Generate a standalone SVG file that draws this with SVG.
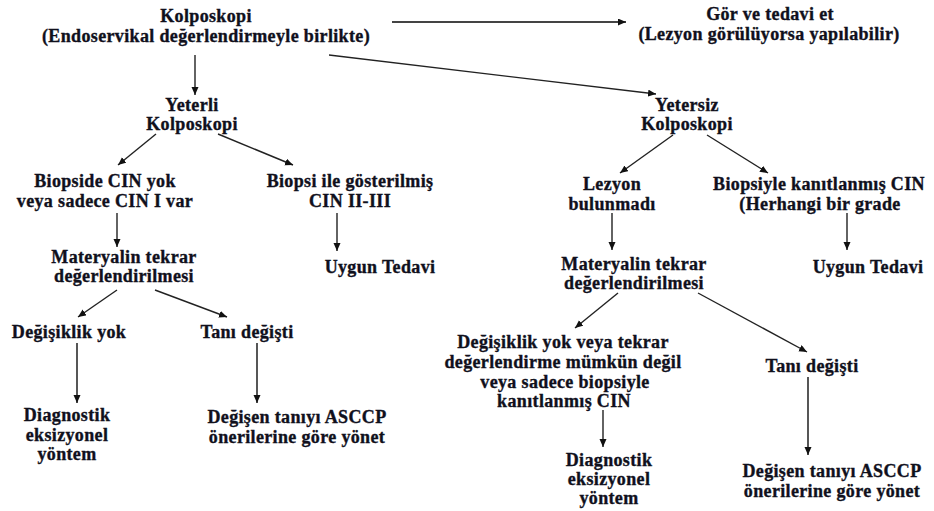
<svg xmlns="http://www.w3.org/2000/svg" width="934" height="511" viewBox="0 0 934 511">
  <style>
    text { font-family: "Liberation Serif", "Times New Roman", serif; font-weight: bold; font-size: 18px; letter-spacing: 0.35px; fill: #10101c; stroke: #10101c; stroke-width: 0.35; text-anchor: middle; }
    .edge { stroke: #222; stroke-width: 1.4; fill: none; marker-end: url(#arrow); }
    .edge.grey { stroke: #444; stroke-width: 1.8; }
  </style>
  <defs>
    <marker id="arrow" markerUnits="userSpaceOnUse" markerWidth="9" markerHeight="8" refX="8" refY="3.5" orient="auto">
      <path d="M0,0 L8,3.5 L0,7 z" fill="#111"/>
    </marker>
  </defs>
  <rect width="934" height="511" fill="#fff"/>

  <g id="connectors">
    <line class="edge grey" x1="392" y1="22" x2="626" y2="22"/>
    <line class="edge" x1="195" y1="55" x2="195" y2="95"/>
    <line class="edge" x1="329" y1="55" x2="656" y2="94"/>
    <line class="edge" x1="156" y1="134" x2="118" y2="165"/>
    <line class="edge" x1="218" y1="134" x2="293" y2="165"/>
    <line class="edge" x1="117" y1="213" x2="117" y2="247"/>
    <line class="edge" x1="337" y1="213" x2="337" y2="251"/>
    <line class="edge" x1="117" y1="290" x2="78" y2="317"/>
    <line class="edge" x1="155" y1="290" x2="227" y2="317"/>
    <line class="edge grey" x1="77" y1="343" x2="77" y2="403"/>
    <line class="edge grey" x1="257" y1="343" x2="257" y2="403"/>
    <line class="edge" x1="673" y1="135" x2="620" y2="173"/>
    <line class="edge" x1="707" y1="135" x2="768" y2="173"/>
    <line class="edge" x1="612" y1="213" x2="612" y2="250"/>
    <line class="edge" x1="847" y1="213" x2="847" y2="250"/>
    <line class="edge" x1="618" y1="293" x2="575" y2="328"/>
    <line class="edge" x1="698" y1="293" x2="807" y2="352"/>
    <line class="edge" x1="603" y1="410" x2="603" y2="447"/>
    <line class="edge grey" x1="808" y1="377" x2="808" y2="455"/>
  </g>

  <g id="kolposkopi">
    <text x="206" y="22">Kolposkopi</text>
    <text x="206" y="42">(Endoservikal değerlendirmeyle birlikte)</text>
  </g>
  <g id="gor-ve-tedavi">
    <text x="770" y="20">Gör ve tedavi et</text>
    <text x="769" y="40">(Lezyon görülüyorsa yapılabilir)</text>
  </g>
  <g id="yeterli">
    <text x="192" y="111">Yeterli</text>
    <text x="192" y="130">Kolposkopi</text>
  </g>
  <g id="yetersiz">
    <text x="687" y="111">Yetersiz</text>
    <text x="687" y="130">Kolposkopi</text>
  </g>
  <g id="biopside-cin-yok">
    <text x="105" y="187">Biopside CIN yok</text>
    <text x="105" y="207">veya sadece CIN I var</text>
  </g>
  <g id="biopsi-cin-2-3">
    <text x="350" y="187">Biopsi ile gösterilmiş</text>
    <text x="350" y="207">CIN II-III</text>
  </g>
  <g id="materyal-sol">
    <text x="124" y="263">Materyalin tekrar</text>
    <text x="124" y="282">değerlendirilmesi</text>
  </g>
  <g id="uygun-tedavi-sol">
    <text x="380" y="273">Uygun Tedavi</text>
  </g>
  <g id="degisiklik-yok">
    <text x="69" y="338">Değişiklik yok</text>
  </g>
  <g id="tani-degisti-sol">
    <text x="247" y="338">Tanı değişti</text>
  </g>
  <g id="diagnostik-sol">
    <text x="67" y="421">Diagnostik</text>
    <text x="67" y="441">eksizyonel</text>
    <text x="67" y="460">yöntem</text>
  </g>
  <g id="degisen-tani-sol">
    <text x="297" y="423">Değişen tanıyı ASCCP</text>
    <text x="297" y="443">önerilerine göre yönet</text>
  </g>
  <g id="lezyon-bulunmadi">
    <text x="612" y="190">Lezyon</text>
    <text x="612" y="210">bulunmadı</text>
  </g>
  <g id="biopsiyle-cin">
    <text x="819" y="190">Biopsiyle kanıtlanmış CIN</text>
    <text x="820" y="210">(Herhangi bir grade</text>
  </g>
  <g id="materyal-sag">
    <text x="634" y="270">Materyalin tekrar</text>
    <text x="634" y="289">değerlendirilmesi</text>
  </g>
  <g id="uygun-tedavi-sag">
    <text x="868" y="273">Uygun Tedavi</text>
  </g>
  <g id="degisiklik-yok-veya">
    <text x="563" y="348">Değişiklik yok veya tekrar</text>
    <text x="563" y="368">değerlendirme mümkün değil</text>
    <text x="565" y="388">veya sadece biopsiyle</text>
    <text x="564" y="407">kanıtlanmış CIN</text>
  </g>
  <g id="tani-degisti-sag">
    <text x="812" y="372">Tanı değişti</text>
  </g>
  <g id="diagnostik-sag">
    <text x="609" y="466">Diagnostik</text>
    <text x="609" y="485">eksizyonel</text>
    <text x="609" y="504">yöntem</text>
  </g>
  <g id="degisen-tani-sag">
    <text x="832" y="477">Değişen tanıyı ASCCP</text>
    <text x="832" y="497">önerilerine göre yönet</text>
  </g>
</svg>
